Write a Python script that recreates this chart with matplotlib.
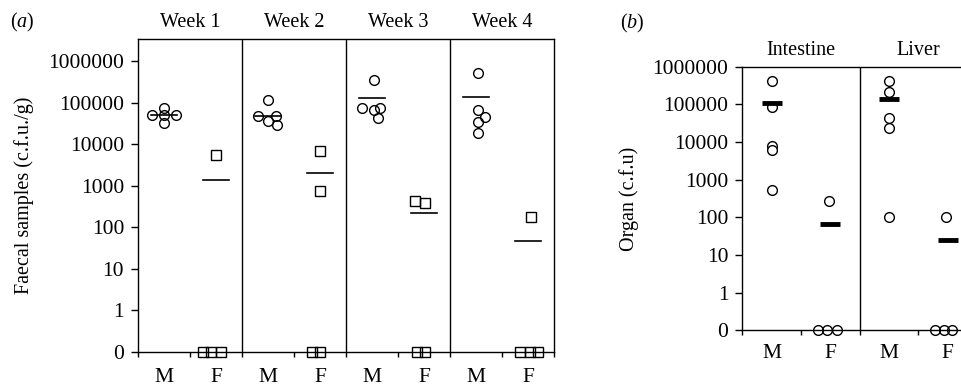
import numpy as np
import matplotlib
matplotlib.use('Agg')
import matplotlib.pyplot as plt
import matplotlib.transforms as mtransforms

plt.rcParams['font.family'] = 'Liberation Serif'
plt.rcParams['mathtext.fontset'] = 'custom'
plt.rcParams['mathtext.rm'] = 'Liberation Serif'
plt.rcParams['mathtext.it'] = 'Liberation Serif:italic'

FS = 14.5
TFS = 15.5  # tick labels
ZERO = 0.1  # the "0" row on the log axis

# ---- panel (a): faecal samples, 4 weeks ----
weeks = ['Week 1', 'Week 2', 'Week 3', 'Week 4']
male_a = [[50000, 73000, 50000, 50000, 32000],
          [115000, 47000, 47000, 37000, 28500],
          [350000, 73000, 67000, 76000, 42000],
          [510000, 67000, 45000, 35000, 19000]]
male_a_dx = [[-0.24, 0.0, 0.0, 0.23, 0.0],
             [0.0, -0.19, 0.16, 0.0, 0.17],
             [0.03, -0.2, 0.03, 0.15, 0.12],
             [0.03, 0.03, 0.17, 0.03, 0.03]]
female_a = [[5600], [6700, 730], [420, 380], [175]]
female_a_dx = [[0.0], [0.0, 0.0], [-0.17, 0.02], [0.05]]
zeros_a_dx = [[-0.26, -0.09, 0.09], [-0.16, 0.0], [-0.14, 0.02], [-0.15, 0.03, 0.2]]
mean_male_a = [51000, 47000, 127000, 140000]
mean_female_a = [1400, 2000, 220, 48]

# ---- panel (b): organs ----
organs = ['Intestine', 'Liver']
male_b = [[415000, 87000, 7900, 6000, 520],
          [415000, 216000, 43000, 24000, 100]]
female_b = [[265], [100]]
zeros_b_dx = [[-0.21, -0.05, 0.11], [-0.22, -0.07, 0.08]]
mean_male_b = [107000, 138000]
mean_female_b = [66, 25]

yticks = [0.1, 1, 10, 100, 1000, 10000, 100000, 1000000]
ylabels = ['0', '1', '10', '100', '1000', '10000', '100000', '1000000']
sexes = ['M', 'F']

fig = plt.figure(figsize=(9.62, 3.84), dpi=100)
ax_a = fig.add_axes([0.1435, 0.0833, 0.4324, 0.8151])
ax_b = fig.add_axes([0.7716, 0.1398, 0.2441, 0.6865])


def setup(ax, ngroups, ytop, label_y):
    ax.set_yscale('log')
    ax.set_ylim(ZERO, ytop)
    ax.set_xlim(0, 2 * ngroups)
    ax.set_yticks(yticks)
    ax.set_yticklabels(ylabels)
    ax.minorticks_off()
    ax.tick_params(axis='y', direction='out', length=5, width=1, pad=5, labelsize=TFS)
    ax.set_xticks(np.arange(0, 2 * ngroups + 1))
    ax.set_xticklabels([])
    ax.tick_params(axis='x', direction='out', length=3.5, width=1)
    for s in ax.spines.values():
        s.set_linewidth(1)
    for g in range(1, ngroups):
        ax.axvline(2 * g, color='black', lw=1)
    trans = mtransforms.blended_transform_factory(ax.transData, ax.transAxes)
    for g in range(ngroups):
        for k, s in enumerate(sexes):
            ax.text(2 * g + k + 0.5, label_y, s, transform=trans,
                    ha='center', va='center', fontsize=TFS)
    return trans


trans_a = setup(ax_a, 4, 10 ** 6.53, -0.08)
for i, w in enumerate(weeks):
    ax_a.text(2 * i + 1, 1.054, w, transform=trans_a, ha='center', va='center', fontsize=FS)
    xm = 2 * i + 0.5
    xf = 2 * i + 1.5
    ax_a.plot(xm + np.array(male_a_dx[i]), male_a[i], 'o', ms=7, mfc='none',
              mec='black', mew=1, ls='none')
    ax_a.plot(xf + np.array(female_a_dx[i]), female_a[i], 's', ms=6.5, mfc='none',
              mec='black', mew=1, ls='none')
    ax_a.plot(xf + np.array(zeros_a_dx[i]), [ZERO] * len(zeros_a_dx[i]), 's', ms=6.5,
              mfc='none', mec='black', mew=1, ls='none', clip_on=False, zorder=5)
    ax_a.plot([xm - 0.25, xm + 0.25], [mean_male_a[i]] * 2, color='black', lw=1.2)
    ax_a.plot([xf - 0.25, xf + 0.25], [mean_female_a[i]] * 2, color='black', lw=1.2)
ax_a.set_ylabel('Faecal samples (c.f.u./g)', fontsize=FS, labelpad=10)
fig.text(22 / 962, 1 - 22 / 384, r'($\it{a}$)', ha='center', va='center', fontsize=FS)

trans_b = setup(ax_b, 2, 1e6, -0.088)
for i, o in enumerate(organs):
    ax_b.text(2 * i + 1, 1.063, o, transform=trans_b, ha='center', va='center', fontsize=FS)
    xm = 2 * i + 0.5
    xf = 2 * i + 1.5
    ax_b.plot([xm] * len(male_b[i]), male_b[i], 'o', ms=7, mfc='white',
              mec='black', mew=1, ls='none', zorder=3)
    ax_b.plot([xf - 0.03] * len(female_b[i]), female_b[i], 'o', ms=7, mfc='white',
              mec='black', mew=1, ls='none', zorder=3)
    ax_b.plot(xf + np.array(zeros_b_dx[i]), [ZERO] * len(zeros_b_dx[i]), 'o', ms=7,
              mfc='none', mec='black', mew=1, ls='none', clip_on=False, zorder=5)
    ax_b.plot([xm - 0.17, xm + 0.17], [mean_male_b[i]] * 2, color='black', lw=3.5,
              solid_capstyle='butt', zorder=4)
    ax_b.plot([xf - 0.17, xf + 0.17], [mean_female_b[i]] * 2, color='black', lw=3.5,
              solid_capstyle='butt', zorder=4)
ax_b.set_ylabel('Organ (c.f.u)', fontsize=FS, labelpad=10)
fig.text(632 / 962, 1 - 23 / 384, r'($\it{b}$)', ha='center', va='center', fontsize=FS)

fig.savefig('out.png', dpi=100)
